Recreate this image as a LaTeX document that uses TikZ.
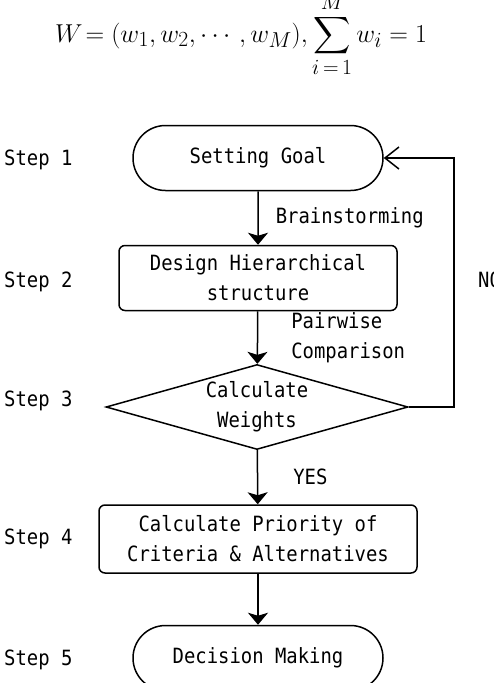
\documentclass[tikz,border=0pt]{standalone}
\usepackage{fontspec}
\usepackage{amsmath}
\usepackage{tikz}
\usetikzlibrary{arrows.meta,positioning,shapes.geometric,shapes.misc}
\newfontfamily\stepfont[FakeStretch=0.9]{DejaVu Sans Mono}
\newcommand{\FlowText}{\stepfont\fontsize{21}{30}\selectfont}

\begin{document}
\begin{tikzpicture}[x=1pt,y=-1pt,
    box/.style={draw,line width=1.5pt,rounded corners=6pt,align=center,font=\FlowText,inner sep=0pt},
    term/.style={draw,line width=1.5pt,rounded rectangle,minimum width=250pt,minimum height=65pt,font=\FlowText,inner sep=0pt},
    test/.style={draw,line width=1.5pt,diamond,shape aspect=3.55,minimum width=302pt,minimum height=85pt,align=center,font=\FlowText,inner sep=0pt},
    lbl/.style={font=\FlowText,inner sep=0pt,align=left},
    arr/.style={line width=1.5pt,-{Stealth[length=12pt,width=20pt,inset=3pt]}},
    backarr/.style={line width=1.5pt,-{Straight Barb[length=14pt,width=22pt,line width=1.5pt]}}]
  \useasboundingbox (0,0) rectangle (494,683);

  % Formula
  \node[anchor=base west,inner sep=0pt,scale=1.04,font=\fontsize{24.88}{28}\selectfont] (formula) at (55,42)
    {$\displaystyle W\!= (w_1, w_2, \cdots, w_M), \sum_{i\,=\,1}^{M} w_i = 1$};

  % Steps
  \node[lbl,anchor=west] (s1) at (4,160) {Step 1};
  \node[lbl,anchor=west] (s2) at (4,282) {Step 2};
  \node[lbl,anchor=west] (s3) at (4,401) {Step 3};
  \node[lbl,anchor=west] (s4) at (4,539) {Step 4};
  \node[lbl,anchor=west] (s5) at (4,660) {Step 5};

  % Flow
  \node[term] (goal) at (258,158) {Setting Goal};
  \node[box,minimum width=278pt,minimum height=65pt] (design) at (258,278) {Design Hierarchical\\structure};
  \node[test] (weights) at (257,407) {Calculate\\Weights};
  \node[box,minimum width=318pt,minimum height=68pt] (priority) at (258,539) {Calculate Priority of\\Criteria \& Alternatives};
  \node[term] (decision) at (258,658) {Decision Making};

  \draw[arr] (goal) -- node[lbl,right=17pt] (brain) {Brainstorming} (design);
  \draw[arr] (design) -- node[lbl,right=33pt] (pair) {Pairwise\\Comparison} (weights);
  \draw[arr] (weights) -- node[lbl,right=35pt] (yes) {YES} (priority);
  \draw[arr] (priority) -- (decision);
  \draw[backarr] (weights.east) -- ++(45,0) |- (goal.east);
  \node[lbl,anchor=west] (no) at (478,280) {NO};
\end{tikzpicture}
\end{document}
